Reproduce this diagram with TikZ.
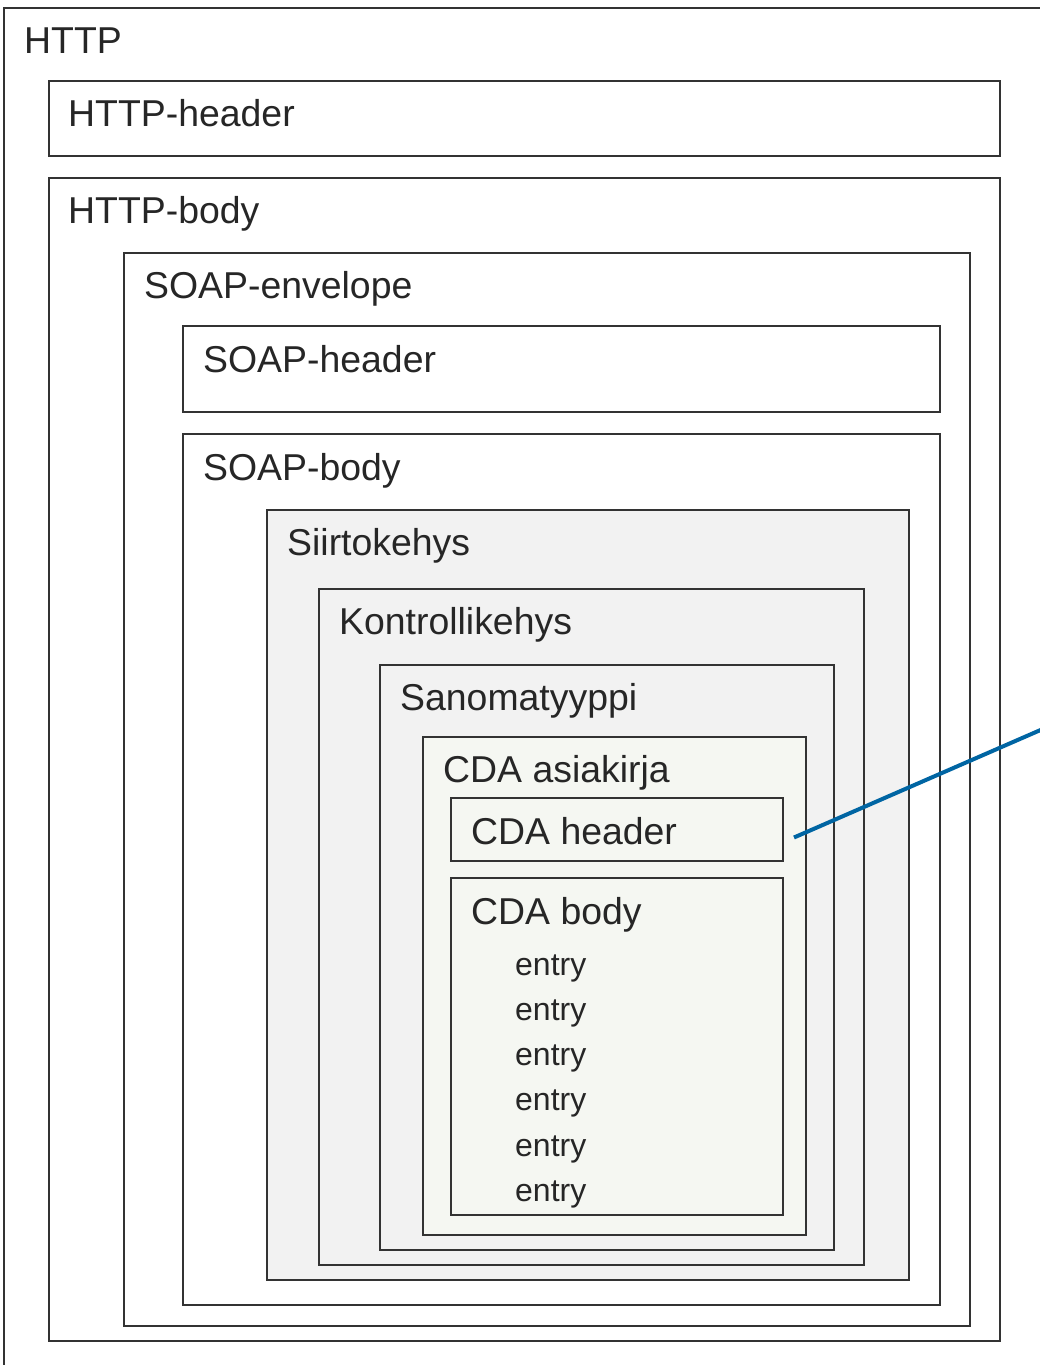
\documentclass[tikz,border=0pt]{standalone}
\usepackage{fontspec}
\setmainfont{Liberation Sans}
\usetikzlibrary{calc}
\definecolor{edge}{HTML}{333333}
\definecolor{grayfill}{HTML}{F2F2F2}
\definecolor{cdafill}{HTML}{F5F7F2}
\definecolor{linkblue}{HTML}{0065A3}
\tikzset{
  box/.style={draw=edge, line width=2pt, rectangle, inner sep=0pt, anchor=north west},
  lbl/.style={anchor=base west, inner sep=0pt, text=black!85, font=\fontsize{37.4}{44}\selectfont},
  ent/.style={anchor=base west, inner sep=0pt, text=black!85, font=\fontsize{32}{38}\selectfont},
}
\newcommand{\bx}[6]{% name, fill, x1, y1, x2, y2
  \node[box, fill=#2, minimum width=#5pt-#3pt, minimum height=#6pt-#4pt] (#1) at (#3-1,#4-1) {};}
\begin{document}
\begin{tikzpicture}[x=1pt,y=-1pt]
\useasboundingbox (0,0) rectangle (1040,1365);
\fill[white] (0,0) rectangle (1040,1365);
\clip (0,0) rectangle (1040,1365);
\bx{http}{white}{4}{8}{1080}{1400}
\bx{httphdr}{white}{49}{81}{1000}{156}
\bx{httpbody}{white}{49}{178}{1000}{1341}
\bx{env}{white}{124}{253}{970}{1326}
\bx{soaphdr}{white}{183}{326}{940}{412}
\bx{soapbody}{white}{183}{434}{940}{1305}
\bx{siirto}{grayfill}{267}{510}{909}{1280}
\bx{kontroll}{grayfill}{319}{589}{864}{1265}
\bx{sanoma}{grayfill}{380}{665}{834}{1250}
\bx{cda}{cdafill}{423}{737}{806}{1235}
\bx{cdahdr}{cdafill}{451}{798}{783}{861}
\bx{cdabody}{cdafill}{451}{878}{783}{1215}
\node[lbl] (t-http) at (24,53) {HTTP};
\node[lbl] (t-httphdr) at (68,126) {HTTP-header};
\node[lbl] (t-httpbody) at (68,223) {HTTP-body};
\node[lbl] (t-env) at (144,298) {SOAP-envelope};
\node[lbl] (t-soaphdr) at (203,372) {SOAP-header};
\node[lbl] (t-soapbody) at (203,480) {SOAP-body};
\node[lbl] (t-siirto) at (287,555) {Siirtokehys};
\node[lbl] (t-kontroll) at (339,634) {Kontrollikehys};
\node[lbl] (t-sanoma) at (400,710) {Sanomatyyppi};
\node[lbl] (t-cda) at (443,782) {CDA asiakirja};
\node[lbl] (t-cdahdr) at (471,844) {CDA header};
\node[lbl] (t-cdabody) at (471,924) {CDA body};
\foreach \i/\y in {1/975,2/1020,3/1065,4/1110,5/1156,6/1201}
  \node[ent] (e\i) at (515,\y) {entry};
\coordinate (lnkend) at (1052,725);
\draw[linkblue, line width=4pt] ($(cdahdr.east)+(10,8)$) -- (lnkend);
\end{tikzpicture}
\end{document}
